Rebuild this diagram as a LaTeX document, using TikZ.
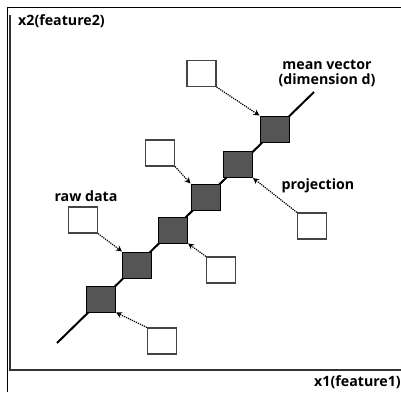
\documentclass[tikz,border=0pt]{standalone}
\usepackage{fontspec}
\setmainfont{Open Sans}
\usetikzlibrary{arrows.meta}
\definecolor{darkbox}{HTML}{555555}
\definecolor{boxline}{HTML}{444444}
\definecolor{axisline}{HTML}{333333}
\begin{document}
\begin{tikzpicture}[x=1pt,y=-1pt,
 projbox/.style={draw=black, fill=darkbox, minimum width=29pt, minimum height=26pt, inner sep=0pt, line width=1pt},
 rawbox/.style={draw=boxline, fill=white, minimum width=29pt, minimum height=26pt, inner sep=0pt, line width=1.2pt},
 lbl/.style={font=\fontsize{14.2}{15.5}\selectfont\bfseries, inner sep=0pt},
 arr/.style={densely dotted, line width=1.2pt, -{Stealth[open,length=6pt,width=6pt]}}]
\useasboundingbox (0,0) rectangle (401,392);
\fill[white] (0,0) rectangle (401,392);
% frame
\draw[line width=1pt] (7,392) -- (7,7) -- (401,7);
\draw[axisline, line width=1.6pt] (10,15) -- (10,370) -- (401,370);
% labels
\node[lbl, anchor=west] (ylab) at (18,21) {x2(feature2)};
\node[lbl, anchor=east] (xlab) at (401,382) {x1(feature1)};
\node[lbl, align=center] (mv) at (327,73.5) {mean vector\\(dimension d)};
\node[lbl] (pr) at (318,186) {projection};
\node[lbl] (rd) at (86,196) {raw data};
% mean vector line
\coordinate (lo) at (57,343);
\coordinate (hi) at (314,92);
\draw[line width=2pt] (lo) -- (hi);
% projections
\node[projbox] (d1) at (101,299) {};
\node[projbox] (d2) at (137,265) {};
\node[projbox] (d3) at (173,230) {};
\node[projbox] (d4) at (205.5,197) {};
\node[projbox] (d5) at (238,164.5) {};
\node[projbox] (d6) at (274.5,129) {};
% raw data
\node[rawbox] (r1) at (201.5,73.5) {};
\node[rawbox] (r2) at (160,153) {};
\node[rawbox] (r3) at (83,220) {};
\node[rawbox] (r4) at (162,341) {};
\node[rawbox] (r5) at (221,270) {};
\node[rawbox] (r6) at (312,226) {};
% arrows
\draw[arr] (r1.south east) -- (d6.north west);
\draw[arr] (r2.south east) -- (d4.north west);
\draw[arr] (r3.south east) -- (d2.north west);
\draw[arr] (r4.north west) -- (d1.south east);
\draw[arr] (r5.north west) -- (d3.south east);
\draw[arr] (r6.north west) -- (d5.south east);
\end{tikzpicture}
\end{document}
